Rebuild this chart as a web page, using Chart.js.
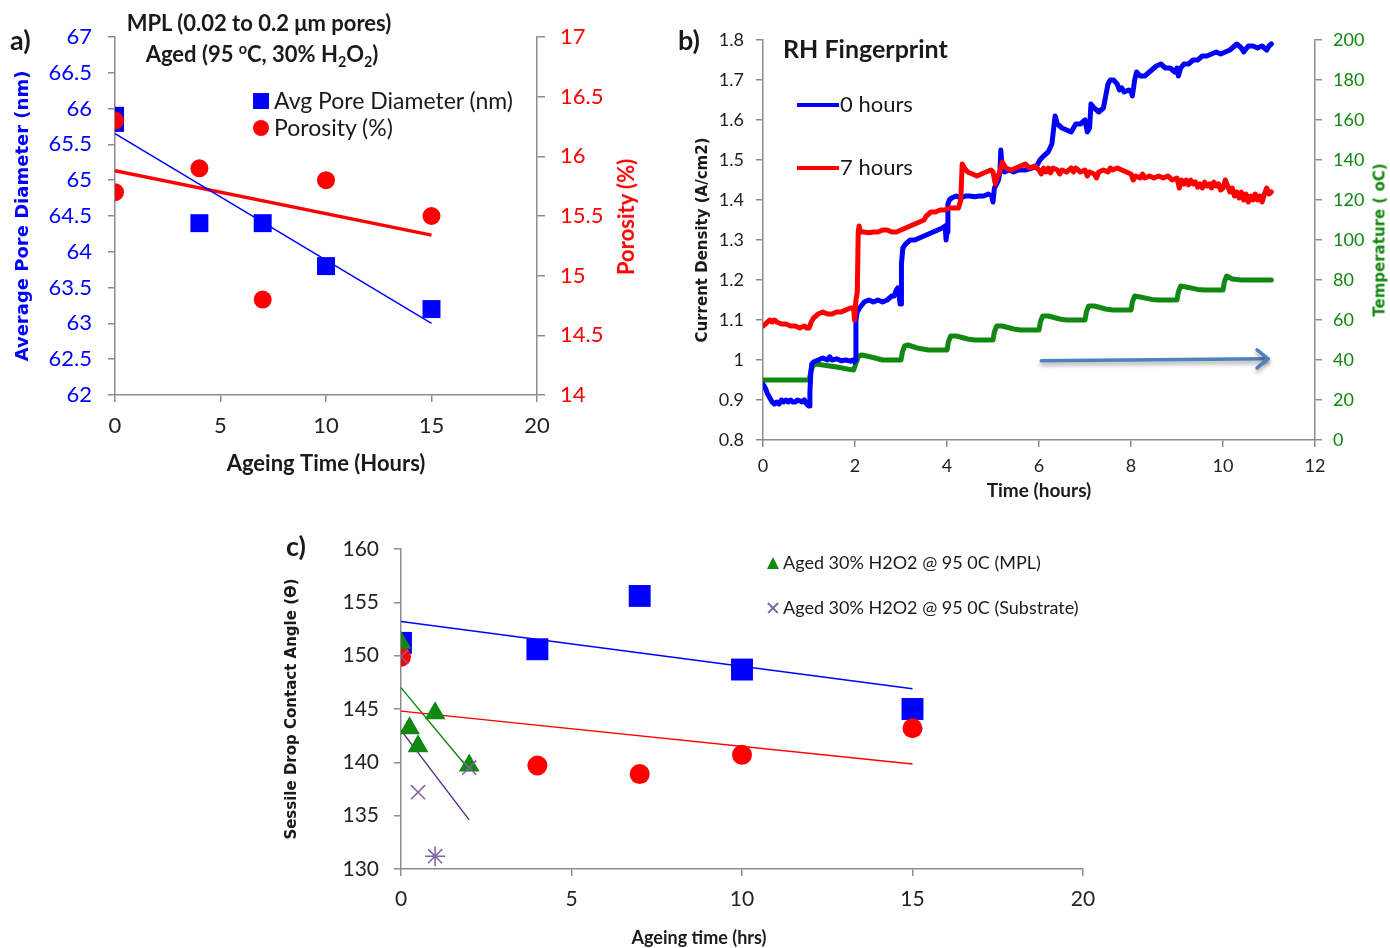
<!DOCTYPE html>
<html>
<head>
<meta charset="utf-8">
<title>Ageing figure</title>
<script src="https://cdn.jsdelivr.net/npm/chart.js@4.4.1/dist/chart.umd.min.js"></script>
<style>
  body { margin: 0; background: #fff; }
  #page { position: relative; width: 1390px; height: 948px; overflow: hidden; font-family: Lato, 'Open Sans', sans-serif; color: #1a1a1a; }
  canvas { position: absolute; }
  .txt { position: absolute; white-space: nowrap; line-height: 1; }
  .bold { font-weight: bold; }
  .vert { position: absolute; white-space: nowrap; line-height: 1; font-weight: bold; transform: translate(-50%, -50%) rotate(-90deg); }
  .mark { position: absolute; }
  .xmark { position: absolute; width: 14px; height: 14px; }
  .xmark::before, .xmark::after { content: ''; position: absolute; left: 0; top: 6px; width: 14px; height: 1.5px; background: #8064a2; }
  .xmark::before { transform: rotate(45deg); }
  .xmark::after { transform: rotate(-45deg); }
  sub, sup { font-size: 65%; line-height: 0; }
</style>
</head>
<body>
<div id="page">
  <canvas id="chartA" width="645" height="490" style="left:0;top:0"></canvas>
  <canvas id="chartB" width="710" height="510" style="left:680px;top:0"></canvas>
  <canvas id="chartC" width="830" height="418" style="left:280px;top:530px"></canvas>

  <!-- panel a -->
  <div class="txt bold" style="left:10px;top:26px;font-size:27px">a)</div>
  <div class="txt bold" style="left:259px;top:12px;font-size:22px;transform:translateX(-50%)">MPL (0.02 to 0.2 μm pores)</div>
  <div class="txt bold" style="left:262px;top:43px;font-size:22px;transform:translateX(-50%)">Aged (95 <sup>o</sup>C, 30% H<sub>2</sub>O<sub>2</sub>)</div>
  <div class="mark" style="left:253px;top:93px;width:16px;height:16px;background:#0000ff"></div>
  <div class="txt" style="left:274px;top:89px;font-size:23px">Avg Pore Diameter (nm)</div>
  <div class="mark" style="left:253px;top:120px;width:16px;height:16px;border-radius:50%;background:#ff0000"></div>
  <div class="txt" style="left:274px;top:116px;font-size:23px">Porosity (%)</div>
  <div class="vert" style="left:626px;top:217px;font-size:22px;color:#ff0000">Porosity (%)</div>

  <!-- panel b -->
  <div class="txt bold" style="left:678px;top:26px;font-size:27px">b)</div>
  <div class="txt bold" style="left:783px;top:36px;font-size:25px">RH Fingerprint</div>
  <div class="mark" style="left:797px;top:103px;width:42px;height:4px;background:#0000ff"></div>
  <div class="txt" style="left:840px;top:93px;font-size:22px">0 hours</div>
  <div class="mark" style="left:797px;top:166px;width:42px;height:4px;background:#ff0000"></div>
  <div class="txt" style="left:840px;top:156px;font-size:22px">7 hours</div>
  <div class="vert" style="left:1380px;top:240px;font-size:15px;color:#118811;font-family:'DejaVu Sans'">Temperature ( oC)</div>

  <!-- panel c -->
  <div class="txt bold" style="left:286px;top:532px;font-size:27px">c)</div>
  <div class="mark" style="left:767px;top:557px;width:0;height:0;border-left:6px solid transparent;border-right:6px solid transparent;border-bottom:12px solid #118811"></div>
  <div class="txt" style="left:783px;top:553px;font-size:18px">Aged 30% H2O2 @ 95 0C (MPL)</div>
  <div class="xmark" style="left:766px;top:601px"></div>
  <div class="txt" style="left:783px;top:598px;font-size:18px">Aged 30% H2O2 @ 95 0C (Substrate)</div>
  <div class="txt bold" style="left:699px;top:928px;font-size:18px;transform:translateX(-50%)">Ageing time (hrs)</div>
</div>

<script>
'use strict';

// ---- panel a: MPL pores ----
const poreHours = [0, 0, 4, 7, 10, 15];
const poreDiameter = [65.9, 65.8, 64.4, 64.4, 63.8, 63.2];
const porosityHours = [0, 0, 4, 7, 10, 15];
const porosity = [16.3, 15.7, 15.9, 14.8, 15.8, 15.5];
const trendHoursA = [0, 15];
const poreTrend = [65.65, 63.0];
const porosityTrend = [15.88, 15.34];

// ---- panel b: RH fingerprint ----
const hours0 = [0, 0.05, 0.1, 0.15, 0.2, 0.25, 0.3, 0.35, 0.4, 0.45, 0.5, 0.55, 0.6, 0.65, 0.7, 0.75, 0.8, 0.85, 0.9, 0.95,
  1.0, 1.02, 1.04, 1.06, 1.1, 1.2, 1.3, 1.4, 1.45, 1.5, 1.6, 1.7, 1.8, 1.9, 1.95, 1.99,
  2.0, 2.02, 2.05, 2.1, 2.2, 2.3, 2.4, 2.5, 2.6, 2.7, 2.8, 2.85, 2.9, 2.93, 2.96, 2.98,
  3.0, 3.01, 3.04, 3.1, 3.2, 3.3, 3.4, 3.5, 3.6, 3.7, 3.8, 3.9, 3.96, 3.98,
  4.0, 4.02, 4.05, 4.1, 4.2, 4.3, 4.4, 4.5, 4.6, 4.7, 4.8, 4.9, 4.97,
  5.0, 5.03, 5.08, 5.12, 5.15, 5.17, 5.2, 5.25, 5.35, 5.45, 5.55, 5.7, 5.85, 5.95,
  6.02, 6.1, 6.2, 6.28, 6.32, 6.35, 6.4, 6.5, 6.6, 6.7, 6.8, 6.9, 6.95,
  7.0, 7.05, 7.1, 7.13, 7.2, 7.3, 7.4, 7.5, 7.55, 7.62, 7.7, 7.75, 7.8, 7.85, 7.95,
  8.0, 8.03, 8.08, 8.12, 8.2, 8.3, 8.4, 8.55, 8.65, 8.75, 8.85, 8.95,
  9.0, 9.03, 9.08, 9.15, 9.25, 9.35, 9.45, 9.55, 9.65, 9.75, 9.85, 9.95,
  10.05, 10.15, 10.25, 10.3, 10.4, 10.45, 10.55, 10.65, 10.75, 10.85, 10.95, 11.0, 11.05];
const density0 = [0.94, 0.93, 0.915, 0.905, 0.895, 0.89, 0.895, 0.89, 0.9, 0.895, 0.9, 0.895, 0.9, 0.895, 0.895, 0.9, 0.898, 0.895, 0.9, 0.89,
  0.885, 0.92, 0.97, 0.99, 0.995, 1.0, 1.005, 1.0, 1.008, 1.0, 1.003, 0.998, 1.0, 0.997, 1.0, 0.995,
  1.0, 1.1, 1.12, 1.13, 1.145, 1.15, 1.145, 1.15, 1.145, 1.15, 1.16, 1.16, 1.175, 1.18, 1.16, 1.14,
  1.14, 1.24, 1.28, 1.29, 1.3, 1.3, 1.305, 1.31, 1.315, 1.32, 1.325, 1.33, 1.335, 1.3,
  1.32, 1.39, 1.4, 1.405, 1.41, 1.405, 1.41, 1.41, 1.408, 1.41, 1.41, 1.415, 1.41,
  1.395, 1.43, 1.44, 1.45, 1.47, 1.525, 1.48, 1.47, 1.475, 1.47, 1.475, 1.475, 1.48, 1.485,
  1.5, 1.51, 1.52, 1.54, 1.58, 1.61, 1.59, 1.58, 1.575, 1.57, 1.59, 1.59, 1.595,
  1.6, 1.57, 1.58, 1.64, 1.63, 1.62, 1.63, 1.69, 1.7, 1.7, 1.69, 1.675, 1.68, 1.67, 1.675,
  1.67, 1.66, 1.7, 1.72, 1.71, 1.71, 1.72, 1.735, 1.74, 1.73, 1.73, 1.72,
  1.73, 1.71, 1.73, 1.74, 1.74, 1.75, 1.75, 1.76, 1.76, 1.765, 1.77, 1.765,
  1.77, 1.775, 1.785, 1.79, 1.78, 1.77, 1.785, 1.785, 1.78, 1.785, 1.775, 1.785, 1.79];

const hours7 = [0, 0.05, 0.1, 0.15, 0.2, 0.25, 0.3, 0.4, 0.5, 0.6, 0.7, 0.8, 0.9, 0.95,
  1.0, 1.05, 1.1, 1.2, 1.3, 1.4, 1.5, 1.6, 1.7, 1.8, 1.9, 1.97, 1.99,
  2.02, 2.05, 2.07, 2.09, 2.12, 2.2, 2.3, 2.4, 2.5, 2.6, 2.7, 2.8, 2.9,
  3.0, 3.1, 3.2, 3.3, 3.4, 3.5, 3.55, 3.65, 3.75, 3.85, 3.95,
  4.05, 4.15, 4.25, 4.3, 4.33, 4.38, 4.45, 4.55, 4.65, 4.75, 4.85, 4.95,
  5.0, 5.05, 5.1, 5.15, 5.2, 5.28, 5.4, 5.5, 5.6, 5.7, 5.8, 5.9,
  6.0, 6.05, 6.1, 6.15, 6.2, 6.25, 6.3, 6.4, 6.45, 6.5, 6.6, 6.7, 6.75, 6.8, 6.9,
  7.0, 7.05, 7.1, 7.2, 7.25, 7.3, 7.4, 7.5, 7.55, 7.6, 7.7, 7.8, 7.9,
  8.0, 8.05, 8.1, 8.2, 8.25, 8.3, 8.4, 8.5, 8.6, 8.7, 8.8, 8.9,
  9.0, 9.05, 9.1, 9.15, 9.2, 9.25, 9.3, 9.35, 9.4, 9.45, 9.5, 9.55, 9.6, 9.65, 9.7, 9.75, 9.8, 9.85, 9.9, 9.95,
  10.0, 10.05, 10.1, 10.15, 10.2, 10.25, 10.3, 10.35, 10.4, 10.45, 10.5, 10.55, 10.6, 10.65, 10.7, 10.75, 10.8, 10.85, 10.9, 10.95,
  11.0, 11.05];
const density7 = [1.085, 1.09, 1.095, 1.1, 1.095, 1.1, 1.095, 1.09, 1.09, 1.085, 1.085, 1.08, 1.085, 1.08,
  1.08, 1.095, 1.105, 1.115, 1.12, 1.115, 1.115, 1.12, 1.12, 1.125, 1.13, 1.13, 1.1,
  1.15, 1.17, 1.32, 1.335, 1.32, 1.32, 1.318, 1.32, 1.32, 1.325, 1.325, 1.32, 1.32,
  1.325, 1.33, 1.335, 1.34, 1.345, 1.35, 1.36, 1.37, 1.37, 1.375, 1.375,
  1.38, 1.38, 1.38, 1.4, 1.49, 1.48, 1.47, 1.465, 1.46, 1.465, 1.47, 1.475,
  1.47, 1.44, 1.46, 1.47, 1.495, 1.48, 1.475, 1.48, 1.485, 1.49, 1.48, 1.485,
  1.475, 1.465, 1.48, 1.47, 1.48, 1.468, 1.48, 1.475, 1.465, 1.475, 1.47, 1.48, 1.47, 1.48, 1.47,
  1.475, 1.46, 1.47, 1.465, 1.455, 1.47, 1.475, 1.47, 1.48, 1.475, 1.48, 1.475, 1.47,
  1.465, 1.45, 1.46, 1.455, 1.465, 1.455, 1.46, 1.455, 1.46, 1.455, 1.46, 1.45,
  1.455, 1.43, 1.45, 1.44, 1.45, 1.438, 1.45, 1.44, 1.445, 1.432, 1.44, 1.43, 1.445, 1.435, 1.44, 1.43, 1.445, 1.435, 1.44, 1.425,
  1.43, 1.45, 1.435, 1.42, 1.43, 1.41, 1.42, 1.405, 1.42, 1.4, 1.415, 1.395, 1.41, 1.4, 1.415, 1.4, 1.41, 1.395, 1.415, 1.43,
  1.415, 1.42];

const tempHours = [0, 1.0, 1.03, 1.08, 1.15, 1.3, 1.6, 1.9, 1.97,
  2.03, 2.08, 2.15, 2.35, 2.6, 3.0, 3.03, 3.08, 3.15, 3.35, 3.6,
  4.0, 4.03, 4.08, 4.2, 4.45, 4.6, 5.0, 5.03, 5.08, 5.2, 5.45, 5.6,
  6.0, 6.03, 6.08, 6.2, 6.45, 6.6, 7.0, 7.03, 7.08, 7.2, 7.45, 7.6,
  8.0, 8.03, 8.08, 8.2, 8.45, 8.6, 9.0, 9.03, 9.08, 9.2, 9.45, 9.6,
  10.0, 10.03, 10.08, 10.2, 10.4, 11.05];
const tempValues = [30, 30, 33, 37, 38, 37.5, 36.5, 35.2, 35,
  39, 42, 42.5, 41.5, 40, 40, 44, 47, 47.5, 46, 45,
  45, 49, 52, 52, 50.5, 50, 50, 54, 57, 57, 55.5, 55,
  55, 59, 62, 62, 60.5, 60, 60, 64, 67, 67, 65.5, 65,
  65, 69, 72, 71.5, 70.3, 70, 70, 74, 77, 76.5, 75.3, 75,
  75, 79, 82, 80.5, 80, 80];

const arrowHours = [6.05, 10.98];
const arrowDensity = [0.998, 1.003];

// ---- panel c: contact angle ----
const mplHours = [0, 4, 7, 10, 15];
const mplAngleBlue = [151.2, 150.6, 155.6, 148.7, 145.0];
const mplAngleRed = [149.9, 139.7, 138.9, 140.7, 143.2];
const agedMplHours = [0, 0.25, 0.5, 1, 2];
const agedMplAngle = [151.2, 143.2, 141.5, 144.6, 139.7];
const substrateHours = [0, 0.5, 1, 2];
const substrateAngle = [149.9, 137.2, 131.2, 139.5];
const trendHoursC = [0, 15];
const blueTrendC = [153.2, 146.9];
const redTrendC = [144.8, 139.85];
const trendHoursShort = [0, 2];
const agedMplTrend = [147.0, 139.3];
const substrateTrend = [143.0, 134.6];

const pts = (xs, ys) => xs.map((x, i) => ({ x, y: ys[i] }));

Chart.defaults.font.family = 'Lato, "Open Sans", sans-serif';
Chart.defaults.animation = false;
Chart.defaults.responsive = false;
Chart.defaults.layout.autoPadding = false;
Chart.defaults.plugins.legend.display = false;
Chart.defaults.plugins.tooltip.enabled = false;

const AXIS_GRAY = '#8c8c8c';
const border = { display: true, color: AXIS_GRAY, width: 1.5 };
const tickGrid = (len) => ({ drawOnChartArea: false, color: AXIS_GRAY, lineWidth: 1.5, tickLength: len });
// fixed box sizes so the plot areas line up with the figure
const fixWidth = (w) => (scale) => { scale.width = w; scale.paddingTop = 0; scale.paddingBottom = 0; };
const fixHeight = (h) => (scale) => { scale.height = h; };
// 67 rather than 67.0, 1 rather than 1.0
const plainNum = (v) => String(+Number(v).toFixed(2));
const yTitle = (text, color, size, pad, family) => ({
    display: true, text, color,
    font: { family: family || 'DejaVu Sans', size, weight: 'bold' },
    padding: { top: pad, bottom: 0 }
});
const trend = (xs, ys, color, width, axis) => ({
    data: pts(xs, ys), showLine: true, pointRadius: 0, borderColor: color,
    borderWidth: width, yAxisID: axis || 'y', order: 5
});

// Panel a
new Chart(document.getElementById('chartA'), {
    type: 'scatter',
    data: {
        datasets: [
            { label: 'Porosity (%)', data: pts(porosityHours, porosity), yAxisID: 'y2', pointStyle: 'circle',
              pointRadius: 9, backgroundColor: '#ff0000', borderWidth: 0, order: 0 },
            { label: 'Avg Pore Diameter (nm)', data: pts(poreHours, poreDiameter), yAxisID: 'y', pointStyle: 'rect',
              pointRadius: 12.7, backgroundColor: '#0000ff', borderWidth: 0, order: 1 },
            trend(trendHoursA, poreTrend, '#0000ff', 1.5, 'y'),
            trend(trendHoursA, porosityTrend, '#ff0000', 3.5, 'y2')
        ]
    },
    options: {
        layout: { padding: { top: 37, left: 0, right: 0, bottom: 0 } },
        scales: {
            x: {
                type: 'linear', min: 0, max: 20,
                ticks: { stepSize: 5, padding: 11, color: '#222', font: { size: 22 }, autoSkip: false, maxRotation: 0 },
                grid: tickGrid(7), border,
                title: { display: true, text: 'Ageing Time (Hours)', color: '#1a1a1a', font: { size: 22, weight: 'bold' }, padding: { top: 0, bottom: 13 } },
                afterFit: fixHeight(95)
            },
            y: {
                position: 'left', min: 62, max: 67,
                ticks: { stepSize: 0.5, padding: 16, color: '#0000ff', font: { size: 22 }, autoSkip: false, callback: plainNum },
                grid: tickGrid(7), border,
                title: yTitle('Average Pore Diameter (nm)', '#0000ff', 18, 13),
                afterFit: fixWidth(115)
            },
            y2: {
                position: 'right', min: 14, max: 17,
                ticks: { stepSize: 0.5, padding: 15, color: '#ff0000', font: { size: 22 }, autoSkip: false, callback: plainNum },
                grid: tickGrid(8), border,
                afterFit: fixWidth(108)
            }
        }
    }
});

// Arrow pointing to the temperature axis
const arrowPlugin = {
    id: 'tempArrow',
    afterDatasetsDraw(chart) {
        const { ctx, scales } = chart;
        const x0 = scales.x.getPixelForValue(arrowHours[0]);
        const x1 = scales.x.getPixelForValue(arrowHours[1]);
        const y0 = scales.y.getPixelForValue(arrowDensity[0]);
        const y1 = scales.y.getPixelForValue(arrowDensity[1]);
        ctx.save();
        ctx.strokeStyle = '#4f81bd';
        ctx.lineWidth = 3.5;
        ctx.lineCap = 'round';
        ctx.lineJoin = 'round';
        ctx.shadowColor = 'rgba(0,0,0,0.35)';
        ctx.shadowBlur = 4;
        ctx.shadowOffsetY = 3;
        ctx.beginPath();
        ctx.moveTo(x0, y0);
        ctx.lineTo(x1, y1);
        ctx.stroke();
        ctx.beginPath();
        ctx.moveTo(x1 - 11, y1 - 9);
        ctx.lineTo(x1, y1);
        ctx.lineTo(x1 - 11, y1 + 9);
        ctx.stroke();
        ctx.restore();
    }
};

// Panel b
const traceLine = (xs, ys, color, axis, order) => ({
    data: pts(xs, ys), showLine: true, pointRadius: 0, borderColor: color,
    borderWidth: 5, yAxisID: axis, order, borderJoinStyle: 'round', borderCapStyle: 'round'
});

new Chart(document.getElementById('chartB'), {
    type: 'scatter',
    data: {
        datasets: [
            traceLine(hours7, density7, '#ff0000', 'y', 0),
            traceLine(hours0, density0, '#0000ff', 'y', 1),
            traceLine(tempHours, tempValues, '#118811', 'yT', 2)
        ]
    },
    options: {
        layout: { padding: { top: 40, left: 0, right: 0, bottom: 0 } },
        scales: {
            x: {
                type: 'linear', min: 0, max: 12,
                ticks: { stepSize: 2, padding: 8, color: '#222', font: { size: 18 }, autoSkip: false, maxRotation: 0 },
                grid: tickGrid(7), border,
                title: { display: true, text: 'Time (hours)', color: '#1a1a1a', font: { size: 19, weight: 'bold' }, padding: { top: 0, bottom: 8 } },
                afterFit: fixHeight(70)
            },
            y: {
                position: 'left', min: 0.8, max: 1.8,
                ticks: { stepSize: 0.1, padding: 12, color: '#222', font: { size: 18 }, autoSkip: false, callback: plainNum },
                grid: tickGrid(7), border,
                title: yTitle('Current Density (A/cm2)', '#1a1a1a', 15, 14),
                afterFit: fixWidth(83)
            },
            yT: {
                position: 'right', min: 0, max: 200,
                ticks: { stepSize: 20, padding: 11, color: '#118811', font: { size: 18 }, autoSkip: false },
                grid: tickGrid(7), border,
                afterFit: fixWidth(75)
            }
        }
    },
    plugins: [arrowPlugin]
});

// Panel c
new Chart(document.getElementById('chartC'), {
    type: 'scatter',
    data: {
        datasets: [
            { label: 'Aged 30% H2O2 @ 95 0C (Substrate)', data: pts(substrateHours, substrateAngle),
              pointStyle: ['crossRot', 'crossRot', 'star', 'crossRot'], pointRadius: 10,
              borderColor: '#8064a2', borderWidth: 1.5, backgroundColor: '#8064a2', order: 0 },
            { label: 'Aged 30% H2O2 @ 95 0C (MPL)', data: pts(agedMplHours, agedMplAngle),
              pointStyle: 'triangle', pointRadius: 12, backgroundColor: '#118811', borderWidth: 0, order: 1 },
            { data: pts(mplHours, mplAngleRed), pointStyle: 'circle', pointRadius: 10,
              backgroundColor: '#ff0000', borderWidth: 0, order: 2 },
            { data: pts(mplHours, mplAngleBlue), pointStyle: 'rect', pointRadius: 15.5,
              backgroundColor: '#0000ff', borderWidth: 0, order: 3 },
            trend(trendHoursC, blueTrendC, '#0000ff', 1.6),
            trend(trendHoursC, redTrendC, '#ff0000', 1.4),
            trend(trendHoursShort, agedMplTrend, '#118811', 1.4),
            trend(trendHoursShort, substrateTrend, '#5b2a86', 1.4)
        ]
    },
    options: {
        layout: { padding: { top: 19, left: 0, right: 27, bottom: 0 } },
        scales: {
            x: {
                type: 'linear', min: 0, max: 20,
                ticks: { stepSize: 5, padding: 11, color: '#222', font: { size: 21 }, autoSkip: false, maxRotation: 0 },
                grid: tickGrid(7), border,
                afterFit: fixHeight(79)
            },
            y: {
                position: 'left', min: 130, max: 160,
                ticks: { stepSize: 5, padding: 15, color: '#222', font: { size: 21 }, autoSkip: false },
                grid: tickGrid(7), border,
                title: yTitle('Sessile Drop Contact Angle (ϴ)', '#1a1a1a', 15, 3),
                afterFit: fixWidth(121)
            }
        }
    }
});
</script>
</body>
</html>
